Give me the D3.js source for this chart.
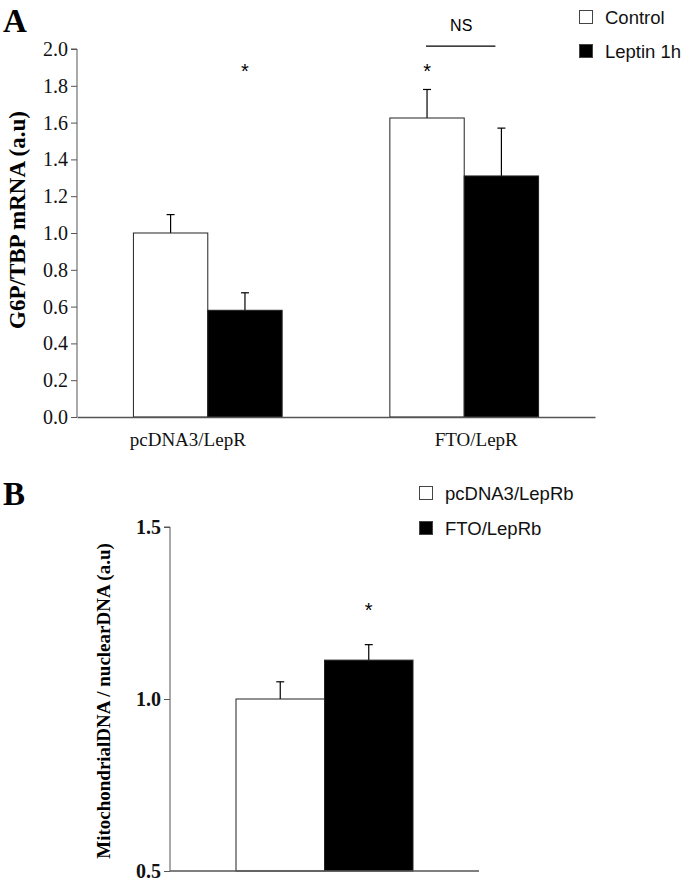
<!DOCTYPE html>
<html>
<head>
<meta charset="utf-8">
<script src="https://cdn.jsdelivr.net/npm/d3@7"></script>
<style>
  html, body { margin: 0; padding: 0; background: #fff; }
  svg { display: block; }
</style>
</head>
<body>
<svg id="chart" width="685" height="884"></svg>
<script>
// ---------- Data: Panel A ----------
const categoriesA = ["pcDNA3/LepR", "FTO/LepR"];
const seriesA = ["Control", "Leptin 1h"];
const controlA = [1.0, 1.625];
const leptinA = [0.58, 1.31];
const controlErrA = [0.10, 0.155];
const leptinErrA = [0.095, 0.26];
const ticksA = [0.0, 0.2, 0.4, 0.6, 0.8, 1.0, 1.2, 1.4, 1.6, 1.8, 2.0];
const yLabelA = "G6P/TBP mRNA (a.u)";

// ---------- Data: Panel B ----------
const categoriesB = ["all"];
const seriesB = ["pcDNA3/LepRb", "FTO/LepRb"];
const valuesB = [1.0, 1.113];
const errB = [0.05, 0.045];
const ticksB = [0.5, 1.0, 1.5];
const yLabelB = "MitochondrialDNA / nuclearDNA (a.u)";

const fills = ["#ffffff", "#000000"];
const serif = "'Liberation Serif', 'Times New Roman', serif";
const sans = "'Liberation Sans', Arial, sans-serif";
const axisColor = "#555";

const svg = d3.select("#chart");

// ================= PANEL A =================
const xA = d3.scaleBand().domain(categoriesA).range([77, 595]).paddingInner(0.42).paddingOuter(0.22);
const xAin = d3.scaleBand().domain(seriesA).range([0, xA.bandwidth()]);
const yA = d3.scaleLinear().domain([0, 2.0]).range([417, 49]);

const gA = svg.append("g");
gA.append("text").attr("x", 3).attr("y", 32).attr("font-family", serif).attr("font-weight", "bold")
  .attr("font-size", 33).text("A");

const rowsA = categoriesA.map((c, i) => [
  {cat: c, s: seriesA[0], v: controlA[i], e: controlErrA[i], fill: fills[0]},
  {cat: c, s: seriesA[1], v: leptinA[i], e: leptinErrA[i], fill: fills[1]}
]).flat();

// error bars (upward only)
const errGA = gA.append("g").attr("stroke", "#000").attr("stroke-width", 1.2);
rowsA.forEach(d => {
  const cx = xA(d.cat) + xAin(d.s) + xAin.bandwidth() / 2;
  errGA.append("line").attr("x1", cx).attr("x2", cx).attr("y1", yA(d.v)).attr("y2", yA(d.v + d.e));
  errGA.append("line").attr("x1", cx - 4).attr("x2", cx + 4).attr("y1", yA(d.v + d.e)).attr("y2", yA(d.v + d.e));
});

gA.append("g").selectAll("rect").data(rowsA).join("rect")
  .attr("x", d => xA(d.cat) + xAin(d.s))
  .attr("y", d => yA(d.v))
  .attr("width", xAin.bandwidth())
  .attr("height", d => yA(0) - yA(d.v))
  .attr("fill", d => d.fill)
  .attr("stroke", "#222").attr("stroke-width", 1);

// y axis A
const yAxisA = d3.axisLeft(yA).tickValues(ticksA).tickFormat(d3.format(".1f")).tickSize(6).tickPadding(3);
const axA = gA.append("g").attr("transform", "translate(77,0)").call(yAxisA);
axA.select(".domain").attr("stroke", axisColor).attr("d", `M-6,${yA(2.0)}H0V${yA(0)}`);
axA.selectAll(".tick line").attr("stroke", axisColor);
axA.selectAll(".tick text").attr("font-family", serif).attr("font-size", 20).attr("fill", "#111");

// x axis A
const xAxisA = d3.axisBottom(xA).tickSize(0).tickPadding(16);
const axXA = gA.append("g").attr("transform", `translate(0,${yA(0)})`).call(xAxisA);
axXA.select(".domain").attr("stroke", axisColor).attr("stroke-width", 1.5);
const labelShiftA = [-20, 12];
axXA.selectAll(".tick text").attr("font-family", serif).attr("font-size", 19).attr("fill", "#111")
  .attr("dx", (d, i) => labelShiftA[i]);

// y label A
gA.append("text").attr("transform", "translate(17,220) rotate(-90)")
  .attr("text-anchor", "middle").attr("dominant-baseline", "central")
  .attr("font-family", serif).attr("font-weight", "bold").attr("font-size", 23).text(yLabelA);

// significance stars A
const starLevelA = 1.9;
gA.append("text").attr("x", xA(categoriesA[0]) + xAin(seriesA[1]) + xAin.bandwidth() / 2).attr("y", yA(starLevelA) + 11)
  .attr("text-anchor", "middle").attr("font-family", sans).attr("font-size", 20).text("*");
gA.append("text").attr("x", xA(categoriesA[1]) + xAin(seriesA[0]) + xAin.bandwidth() / 2).attr("y", yA(starLevelA) + 11)
  .attr("text-anchor", "middle").attr("font-family", sans).attr("font-size", 20).text("*");

// NS bracket
const nsLevel = 2.016;
gA.append("line")
  .attr("x1", xA(categoriesA[1]) + xAin(seriesA[0]) + xAin.bandwidth() / 2 - 1)
  .attr("x2", xA(categoriesA[1]) + xAin(seriesA[1]) + xAin.bandwidth() / 2 - 6)
  .attr("y1", yA(nsLevel)).attr("y2", yA(nsLevel)).attr("stroke", "#000").attr("stroke-width", 1.2);
gA.append("text").attr("x", xA(categoriesA[1]) + xA.bandwidth() / 2 - 3).attr("y", yA(nsLevel) - 15)
  .attr("text-anchor", "middle").attr("font-family", sans).attr("font-size", 16).text("NS");

// legend A
const legA = gA.append("g").attr("transform", "translate(579,10)");
seriesA.forEach((s, i) => {
  const g = legA.append("g").attr("transform", `translate(0,${i * 34})`);
  g.append("rect").attr("x", 0.5).attr("y", 0.5).attr("width", 13).attr("height", 13)
    .attr("fill", fills[i]).attr("stroke", "#444").attr("stroke-width", 1);
  g.append("text").attr("x", 26).attr("y", 7).attr("dominant-baseline", "central")
    .attr("font-family", sans).attr("font-size", 18.5).attr("fill", "#111").text(s);
});

// ================= PANEL B =================
const xB = d3.scaleBand().domain(categoriesB).range([170, 479]).padding(0.2716);
const xBin = d3.scaleBand().domain(seriesB).range([0, xB.bandwidth()]);
const yB = d3.scaleLinear().domain([0.5, 1.5]).range([871, 527]);

const gB = svg.append("g");
gB.append("text").attr("x", 3).attr("y", 505).attr("font-family", serif).attr("font-weight", "bold")
  .attr("font-size", 33).text("B");

const rowsB = seriesB.map((s, i) => ({s: s, v: valuesB[i], e: errB[i], fill: fills[i]}));

const errGB = gB.append("g").attr("stroke", "#000").attr("stroke-width", 1.2);
rowsB.forEach(d => {
  const cx = xB(categoriesB[0]) + xBin(d.s) + xBin.bandwidth() / 2;
  errGB.append("line").attr("x1", cx).attr("x2", cx).attr("y1", yB(d.v)).attr("y2", yB(d.v + d.e));
  errGB.append("line").attr("x1", cx - 4).attr("x2", cx + 4).attr("y1", yB(d.v + d.e)).attr("y2", yB(d.v + d.e));
});

gB.append("g").selectAll("rect").data(rowsB).join("rect")
  .attr("x", d => xB(categoriesB[0]) + xBin(d.s))
  .attr("y", d => yB(d.v))
  .attr("width", xBin.bandwidth())
  .attr("height", d => yB(0.5) - yB(d.v))
  .attr("fill", d => d.fill)
  .attr("stroke", "#222").attr("stroke-width", 1);

const yAxisB = d3.axisLeft(yB).tickValues(ticksB).tickFormat(d3.format(".1f")).tickSize(6).tickPadding(3);
const axB = gB.append("g").attr("transform", "translate(170,0)").call(yAxisB);
axB.select(".domain").attr("stroke", axisColor).attr("d", `M-6,${yB(1.5)}H0V${yB(0.5)}`);
axB.selectAll(".tick line").attr("stroke", axisColor);
axB.selectAll(".tick text").attr("font-family", serif).attr("font-weight", "bold").attr("font-size", 20).attr("fill", "#111");

// x axis line B
gB.append("line").attr("x1", 170).attr("x2", 479).attr("y1", yB(0.5)).attr("y2", yB(0.5))
  .attr("stroke", axisColor).attr("stroke-width", 1.5);

gB.append("text").attr("transform", "translate(103,701) rotate(-90)")
  .attr("text-anchor", "middle").attr("dominant-baseline", "central")
  .attr("font-family", serif).attr("font-weight", "bold").attr("font-size", 19).text(yLabelB);

// star B
const starLevelB = 1.27;
gB.append("text").attr("x", xB(categoriesB[0]) + xBin(seriesB[1]) + xBin.bandwidth() / 2).attr("y", yB(starLevelB) + 11)
  .attr("text-anchor", "middle").attr("font-family", sans).attr("font-size", 20).text("*");

// legend B
const legB = gB.append("g").attr("transform", "translate(419,486)");
seriesB.forEach((s, i) => {
  const g = legB.append("g").attr("transform", `translate(0,${i * 35})`);
  g.append("rect").attr("x", 0.5).attr("y", 0.5).attr("width", 13).attr("height", 13)
    .attr("fill", fills[i]).attr("stroke", "#444").attr("stroke-width", 1);
  g.append("text").attr("x", 26).attr("y", 7).attr("dominant-baseline", "central")
    .attr("font-family", sans).attr("font-size", 18.5).attr("fill", "#111").text(s);
});
</script>
</body>
</html>
